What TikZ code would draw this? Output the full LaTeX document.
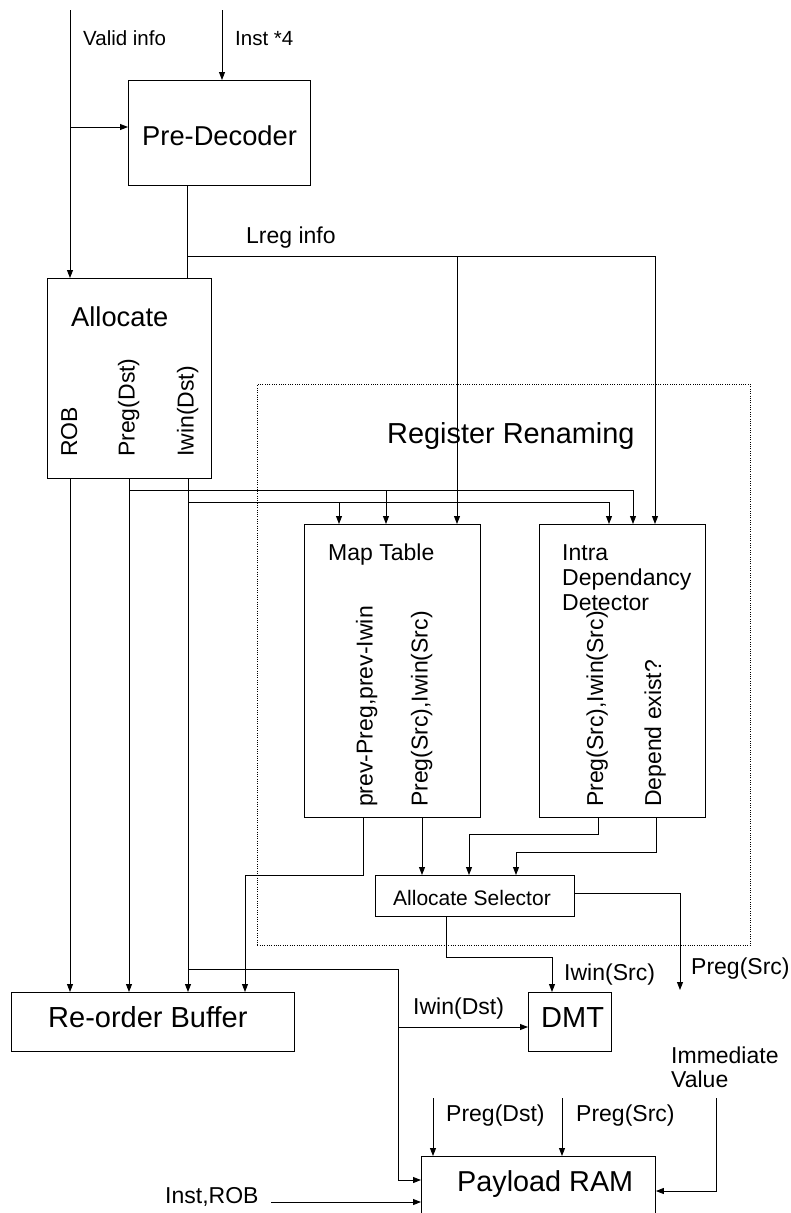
\documentclass[tikz,border=0pt]{standalone}
\usepackage{fontspec}
\setmainfont{Liberation Sans}
\usetikzlibrary{arrows.meta}
\newcommand\myfs[1]{\fontsize{#1}{#1}\selectfont}
\begin{document}
\begin{tikzpicture}[x=1pt,y=-1pt,
  box/.style={draw, line width=0.9pt, inner sep=0pt, anchor=north west},
  dotbox/.style={dash pattern=on 1pt off 1.3pt, line width=0.8pt},
  arr/.style={-{Triangle[length=8pt,width=6pt]}, line width=0.9pt},
  ln/.style={line width=0.9pt},
  lab/.style={inner sep=0pt, anchor=base west, font=\myfs{23}},
  vlab/.style={inner sep=0pt, anchor=base west, rotate=90, font=\myfs{23}}]
\useasboundingbox (0,0) rectangle (790,1213);
% boxes
\node[box,minimum width=182pt,minimum height=105pt] (pd) at (128,80) {};
\node[box,minimum width=164pt,minimum height=200pt] (alloc) at (47,278) {};
\node[box,minimum width=176pt,minimum height=293pt] (map) at (304,524) {};
\node[box,minimum width=166pt,minimum height=293pt] (intra) at (539,524) {};
\node[box,minimum width=199pt,minimum height=41pt] (asel) at (375,875) {};
\node[box,minimum width=283pt,minimum height=59pt] (rob) at (11,992) {};
\node[box,minimum width=83pt,minimum height=59pt] (dmt) at (528,992) {};
\node[box,minimum width=234pt,minimum height=64pt] (pay) at (421,1156) {};
\node[box,dotbox,minimum width=493pt,minimum height=561pt] (rr) at (257,384) {};
% texts
\node[lab,font=\myfs{20.5}] (tvalid) at (83,45) {Valid info};
\node[lab,font=\myfs{20.5}] (tinst) at (235,45) {Inst *4};
\node[lab,font=\myfs{27.3}] (tpd) at (142,145) {Pre-Decoder};
\node[lab] (tlreg) at (246,243) {Lreg info};
\node[lab,font=\myfs{27.3}] (talloc) at (71,326) {Allocate};
\node[vlab] (trob) at (77,457) {ROB};
\node[vlab] (tpregd) at (134.5,457) {Preg(Dst)};
\node[vlab] (tiwind) at (193.5,457) {Iwin(Dst)};
\node[lab,font=\myfs{28.9}] (trr) at (387,443) {Register Renaming};
\node[lab] (tmap) at (328,560) {Map Table};
\node[lab] (tintra1) at (562,560) {Intra};
\node[lab] (tintra2) at (562,585) {Dependancy};
\node[lab] (tintra3) at (562,610) {Detector};
\node[vlab] (tprev) at (372.5,807) {prev-Preg,prev-Iwin};
\node[vlab] (tmsrc) at (427.5,807) {Preg(Src),Iwin(Src)};
\node[vlab] (tisrc) at (603,807) {Preg(Src),Iwin(Src)};
\node[vlab] (tdep) at (661,807) {Depend exist?};
\node[lab,font=\myfs{21}] (tasel) at (393,905) {Allocate Selector};
\node[lab,font=\myfs{29}] (trobt) at (48,1027) {Re-order Buffer};
\node[lab,font=\myfs{29}] (tdmt) at (541,1027) {DMT};
\node[lab] (tiwsrc) at (564,980) {Iwin(Src)};
\node[lab] (tpsrc) at (691,974) {Preg(Src)};
\node[lab] (tiwdst) at (413,1014) {Iwin(Dst)};
\node[lab] (timm1) at (671,1063) {Immediate};
\node[lab] (timm2) at (671,1087) {Value};
\node[lab] (tpd2) at (446,1121) {Preg(Dst)};
\node[lab] (tps2) at (576,1121) {Preg(Src)};
\node[lab,font=\myfs{28.8}] (tpay) at (457,1191) {Payload RAM};
\node[lab] (tinstrob) at (165,1203) {Inst,ROB};
% connectors
\coordinate (vtop) at (70,10);
\draw[arr] (vtop) -- (vtop |- alloc.north);
\coordinate (vbr) at (70,127);
\draw[arr] (vbr) -- (vbr -| pd.west);
\coordinate (itop) at (222,10);
\draw[arr] (itop) -- (itop |- pd.north);
\coordinate (pdo) at (187,0);
\draw[ln] (pd.south -| pdo) -- (alloc.north -| pdo);
\coordinate (lrj) at (187,256);
\coordinate (lrr) at (655,256);
\coordinate (lrm) at (457,256);
\draw[arr] (lrj) -- (lrr) -- (lrr |- intra.north);
\draw[arr] (lrm) -- (lrm |- map.north);
\coordinate (aoa) at (70,0);
\coordinate (aob) at (129,0);
\coordinate (aoc) at (188,0);
\draw[arr] (alloc.south -| aoa) -- (rob.north -| aoa);
\draw[arr] (alloc.south -| aob) -- (rob.north -| aob);
\draw[arr] (alloc.south -| aoc) -- (rob.north -| aoc);
\coordinate (pb1) at (129,490);
\coordinate (pb2) at (633,490);
\coordinate (pbm) at (386,490);
\draw[arr] (pb1) -- (pb2) -- (pb2 |- intra.north);
\draw[arr] (pbm) -- (pbm |- map.north);
\coordinate (ib1) at (188,502);
\coordinate (ib2) at (609,502);
\coordinate (ibm) at (339,502);
\draw[arr] (ib1) -- (ib2) -- (ib2 |- intra.north);
\draw[arr] (ibm) -- (ibm |- map.north);
\coordinate (m1) at (363,875);
\coordinate (m1b) at (245,875);
\draw[arr] (map.south -| m1) -- (m1) -- (m1b) -- (m1b |- rob.north);
\coordinate (m2) at (422,0);
\draw[arr] (map.south -| m2) -- (asel.north -| m2);
\coordinate (n1) at (598,834);
\coordinate (n1b) at (469,834);
\draw[arr] (intra.south -| n1) -- (n1) -- (n1b) -- (n1b |- asel.north);
\coordinate (n2) at (656,852);
\coordinate (n2b) at (516,852);
\draw[arr] (intra.south -| n2) -- (n2) -- (n2b) -- (n2b |- asel.north);
\coordinate (ar) at (680,893);
\coordinate (aend) at (680,990);
\draw[arr] (ar -| asel.east) -- (ar) -- (aend);
\coordinate (ab1) at (446,957);
\coordinate (ab2) at (552,957);
\draw[arr] (asel.south -| ab1) -- (ab1) -- (ab2) -- (ab2 |- dmt.north);
\coordinate (ip1) at (188,969);
\coordinate (ip2) at (398,969);
\coordinate (ip3) at (398,1180);
\draw[arr] (ip1) -- (ip2) -- (ip3) -- (ip3 -| pay.west);
\coordinate (id1) at (398,1027);
\draw[arr] (id1) -- (id1 -| dmt.west);
\coordinate (pp1) at (433,1098);
\draw[arr] (pp1) -- (pp1 |- pay.north);
\coordinate (pp2) at (562,1098);
\draw[arr] (pp2) -- (pp2 |- pay.north);
\coordinate (im1) at (716,1098);
\coordinate (im2) at (716,1191);
\draw[arr] (im1) -- (im2) -- (im2 -| pay.east);
\coordinate (ir) at (271,1202);
\draw[arr] (ir) -- (ir -| pay.west);
\end{tikzpicture}
\end{document}
